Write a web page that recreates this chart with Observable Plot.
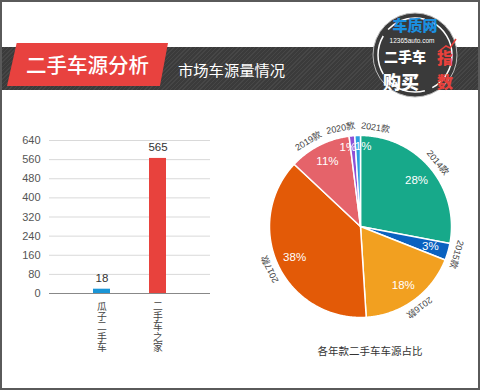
<!DOCTYPE html>
<html><head><meta charset="utf-8">
<script src="https://cdn.jsdelivr.net/npm/d3@7"></script>
<script src="https://cdn.jsdelivr.net/npm/@observablehq/plot@0.6"></script>
<style>
html,body{margin:0;padding:0;background:#fff;}
#page{position:relative;width:480px;height:390px;overflow:hidden;background:#fff;font-family:"Liberation Sans","Noto Sans CJK SC",sans-serif;}
.abs{position:absolute;}
#band{left:0;top:47px;width:480px;height:43px;background:#3b3b3b;
 background-image:repeating-linear-gradient(135deg,rgba(255,255,255,0.06) 0 1px,transparent 1px 3px);}
#redbox{left:7px;top:43px;width:161px;height:43px;background:#e8423f;clip-path:polygon(6% 0,100% 0,95% 100%,0 100%);}
#title{left:26px;top:52px;color:#fff;font-family:"Noto Sans CJK SC",sans-serif;font-size:20.5px;font-weight:500;line-height:24px;white-space:nowrap;}
#sub{left:178px;top:60px;color:#fff;font-family:"Noto Sans CJK SC",sans-serif;font-size:15.3px;line-height:18px;white-space:nowrap;}
#border{left:0;top:0;width:480px;height:390px;box-sizing:border-box;border:2px solid #5a5a5a;pointer-events:none;}
#bars{left:0;top:100px;}
#pie{left:240px;top:110px;}
#caption{left:300px;width:140px;top:344px;text-align:center;color:#333;font-family:"Noto Sans CJK SC",sans-serif;font-size:10.5px;line-height:14px;}
</style>
</head><body>
<div id="page">
  <div id="band" class="abs"></div>
  <div id="redbox" class="abs"></div>
  <div id="title" class="abs">二手车源分析</div>
  <div id="sub" class="abs">市场车源量情况</div>
  <svg class="abs" style="left:360px;top:4px" width="110" height="100" font-family="Noto Sans CJK SC, sans-serif">
    <circle cx="55" cy="51" r="42" fill="#3a3a3a" stroke="#bbb" stroke-width="1"/>
    <circle cx="55" cy="51" r="37" fill="none" stroke="#fff" stroke-width="1.5" stroke-dasharray="40 8"/>
    <text x="55" y="27" text-anchor="middle" fill="#1b8fe0" font-size="15" font-weight="900">车质网</text>
    <text x="52" y="39" text-anchor="middle" fill="#fff" font-size="6.5" font-family="Liberation Sans, sans-serif">12365auto.com</text>
    <text x="45" y="58" text-anchor="middle" fill="#fff" font-size="14" font-weight="900">二手车</text>
    <text x="41" y="85" text-anchor="middle" fill="#fff" font-size="18" font-weight="900">购买</text>
    <text x="85" y="60" text-anchor="middle" fill="#e8413c" font-size="16" font-weight="900">指</text>
    <text x="85" y="84" text-anchor="middle" fill="#e8413c" font-size="16" font-weight="900">数</text>
    <polyline points="78,48 86,42 90,44 96,35" fill="none" stroke="#e8413c" stroke-width="1.5"/>
  </svg>
  <div id="bars" class="abs"></div>
  <div id="pie" class="abs"></div>
  <div id="caption" class="abs">各年款二手车车源占比</div>
  <div id="border" class="abs"></div>
</div>
<script>
// ---- Bar chart data ----
const platforms = ["瓜子二手车", "二手车之家"];
const listings = [18, 565];
const barColors = ["#1a95d6", "#e8423d"];
const yTicks = [0, 80, 160, 240, 320, 400, 480, 560, 640];

// ---- Pie chart data ----
const years = ["2014款", "2015款", "2016款", "2017款", "2019款", "2020款", "2021款"];
const shares = [28, 3, 18, 38, 11, 1, 1];
const sliceColors = ["#17a98a", "#0a62c0", "#f2a020", "#e35a07", "#e5636a", "#8e50d6", "#2a9fe0"];

const cjk = "Liberation Sans, Noto Sans CJK SC, sans-serif";

// ---- Bar chart ----
const barData = platforms.map((p, i) => ({platform: p, value: listings[i]}));
const bars = Plot.plot({
  width: 225, height: 270,
  marginLeft: 49, marginRight: 15, marginTop: 40, marginBottom: 77,
  style: {fontFamily: cjk, fontSize: "11px", color: "#555", background: "transparent"},
  x: {domain: platforms, paddingInner: 0.69, paddingOuter: 0.78, axis: null},
  y: {domain: [0, 640], ticks: yTicks, axis: null},
  color: {domain: platforms, range: barColors},
  marks: [
    Plot.gridY(yTicks, {stroke: "#d9d9d9", strokeOpacity: 1}),
    Plot.axisY(yTicks, {tickSize: 0, tickPadding: 9, fontSize: 11, fill: "#555", label: null}),
    Plot.barY(barData, {x: "platform", y: "value", fill: "platform"}),
    Plot.ruleY([0], {stroke: "#888"}),
    Plot.text(barData, {x: "platform", y: "value", text: d => String(d.value), dy: -7, lineAnchor: "bottom", fontSize: 11.5, fill: "#333"}),
    Plot.text(barData, {x: "platform", y: () => 0, text: d => [...d.platform].join("\n"), lineAnchor: "top", dy: 9, lineHeight: 1.05, fontSize: 9.8, fill: "#444"})
  ]
});
document.getElementById("bars").appendChild(bars);

// ---- Pie chart ----
const W = 240, H = 232, R = 91;
const arcs = d3.pie().sort(null)(shares);
const slicePts = [];
arcs.forEach((a, i) => {
  const n = Math.max(2, Math.ceil((a.endAngle - a.startAngle) / 0.01));
  slicePts.push({year: years[i], x: 0, y: 0});
  for (let k = 0; k <= n; k++) {
    const t = a.startAngle + (a.endAngle - a.startAngle) * k / n;
    slicePts.push({year: years[i], x: Math.sin(t), y: Math.cos(t)});
  }
  slicePts.push({year: years[i], x: 0, y: 0});
});
const mids = arcs.map(a => (a.startAngle + a.endAngle) / 2);
// spread angles so that neighbouring labels do not overlap
function spread(anglesDeg, minSep) {
  const a = anglesDeg.slice();
  for (let it = 0; it < 300; it++) {
    for (let i = 1; i < a.length; i++) {
      const d = a[i] - a[i - 1];
      if (d < minSep) { const p = (minSep - d) / 2; a[i] += p; a[i - 1] -= p; }
    }
  }
  return a;
}
const midDeg = mids.map(m => m * 180 / Math.PI);
const inAng = spread(midDeg, 11);
const inner = arcs.map((a, i) => {
  const t = inAng[i] * Math.PI / 180;
  const r = shares[i] < 2 ? 0.88 : 0.8;
  return {x: r * Math.sin(t), y: r * Math.cos(t),
    label: Math.round(shares[i] / d3.sum(shares) * 100) + "%"};
});
const lab = spread(midDeg, 20);
const outer = years.map((y, i) => {
  const t = lab[i] * Math.PI / 180;
  return {x: 1.1 * Math.sin(t), y: 1.1 * Math.cos(t), rot: lab[i], label: y};
});
const pie = Plot.plot({
  width: W, height: H, margin: 0,
  style: {fontFamily: cjk, background: "transparent"},
  x: {domain: [-W / 2 / R, W / 2 / R], axis: null},
  y: {domain: [-H / 2 / R, H / 2 / R], axis: null},
  color: {domain: years, range: sliceColors},
  marks: [
    Plot.line(slicePts, {x: "x", y: "y", z: "year", fill: "year", stroke: "#fff", strokeWidth: 1.5, strokeLinejoin: "round"}),
    Plot.text(inner, {x: "x", y: "y", text: "label", fill: "#fff", fontSize: 11.5}),
    Plot.text(outer, {x: "x", y: "y", text: "label", rotate: "rot", fill: "#444", fontSize: 9})
  ]
});
document.getElementById("pie").appendChild(pie);
</script>
</body></html>
